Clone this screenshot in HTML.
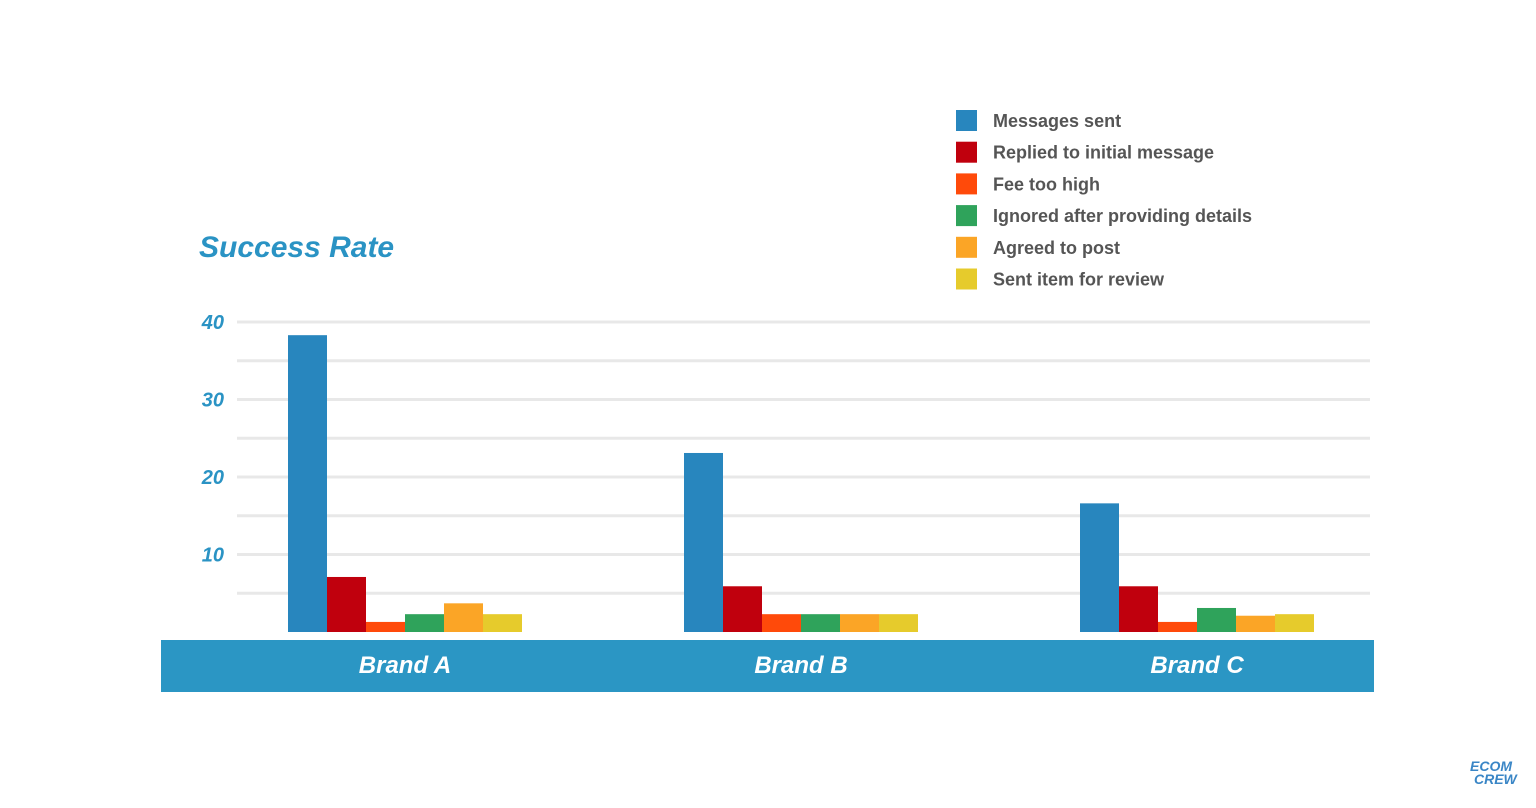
<!DOCTYPE html>
<html><head><meta charset="utf-8"><style>
body{margin:0;background:#fff;font-family:"Liberation Sans",sans-serif}
svg text{font-family:"Liberation Sans",sans-serif}
</style></head><body>
<svg id="chart" width="1536" height="803" xmlns="http://www.w3.org/2000/svg">
<text x="199" y="257" font-size="30" font-weight="bold" font-style="italic" fill="#2a93c4">Success Rate</text>
<g id="grid"></g><g id="yticks"></g>
<rect x="161" y="640" width="1213" height="52" fill="#2b96c4"/>
<g id="bars"></g><g id="xlabels"></g><g id="legend"></g>
<text x="1470" y="771" font-size="14" font-weight="bold" font-style="italic" fill="#3a86c6">ECOM</text>
<text x="1474" y="784" font-size="14" font-weight="bold" font-style="italic" fill="#3a86c6">CREW</text>
</svg>
<script>
const categories=["Brand A","Brand B","Brand C"];
const seriesNames=["Messages sent","Replied to initial message","Fee too high","Ignored after providing details","Agreed to post","Sent item for review"];
const messagesSent=[38.3,23.1,16.6];
const replied=[7.1,5.9,5.9];
const feeTooHigh=[1.3,2.3,1.3];
const ignored=[2.3,2.3,3.1];
const agreed=[3.7,2.3,2.1];
const sentItem=[2.3,2.3,2.3];
const yTicks=[10,20,30,40];
const series=[messagesSent,replied,feeTooHigh,ignored,agreed,sentItem];
const colors=["#2886be","#c0000d","#ff4a0a","#2fa35b","#fba526","#e6cb2c"];
const NS="http://www.w3.org/2000/svg";
function y(v){return 632-v*7.75;}
function gx(i){return 288+i*396;}
const bw=39;
function mk(t,a,p){const e=document.createElementNS(NS,t);for(const k in a)e.setAttribute(k,a[k]);p.appendChild(e);return e;}
const grid=document.getElementById('grid');
for(let v=5;v<=40;v+=5){const l=mk('line',{x1:237,x2:1370,y1:y(v),y2:y(v),stroke:'#e8e8e8','stroke-width':3},grid);

}
const yt=document.getElementById('yticks');
yTicks.forEach(v=>{const t=mk('text',{x:224,y:y(v)+7,'text-anchor':'end','font-size':20,'font-weight':'bold','font-style':'italic',fill:'#2a93c4'},yt);t.textContent=v;

});
const bars=document.getElementById('bars');
categories.forEach((c,i)=>{series.forEach((s,j)=>{const r=mk('rect',{x:gx(i)+j*bw,y:y(s[i]),width:bw,height:632-y(s[i]),fill:colors[j]},bars);

});
const t=mk('text',{x:gx(i)+3*bw,y:673,'text-anchor':'middle','font-size':24,'font-weight':'bold','font-style':'italic',fill:'#fff'},document.getElementById('xlabels'));t.textContent=c;

});
const lg=document.getElementById('legend');
seriesNames.forEach((n,j)=>{const yy=110+j*31.7;
const r=mk('rect',{x:956,y:yy,width:21,height:21,fill:colors[j]},lg);


const t=mk('text',{x:993,y:yy+17,'font-size':18,'font-weight':'bold',fill:'#555'},lg);t.textContent=n;

});
</script>
</body></html>
